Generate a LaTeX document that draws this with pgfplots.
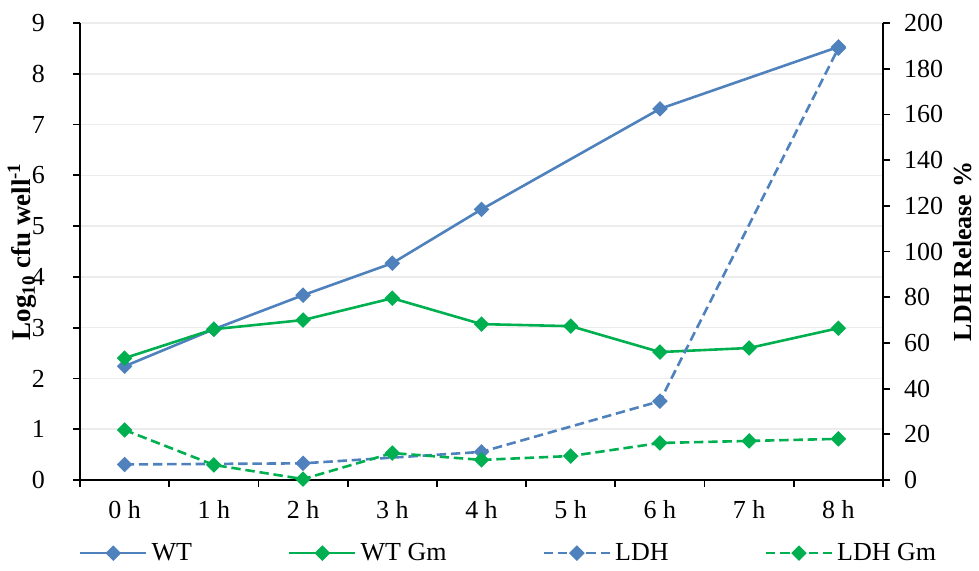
\documentclass[border=0pt]{standalone}
\usepackage{pgfplots}
\pgfplotsset{compat=1.18}
\usepackage{fontspec}
\setmainfont{Liberation Serif}

\definecolor{wtblue}{RGB}{79,129,189}
\definecolor{gmgreen}{RGB}{0,176,80}
\definecolor{gridgray}{RGB}{236,236,236}

\pgfplotsset{
  common/.style={
    width=401.5pt, height=228.5pt, scale only axis,
    xmin=-0.5, xmax=8.5,
    /pgf/number format/assume math mode=true,
    tick label style={font=\fontsize{13}{15}\selectfont},
    axis line style={-, line width=0.9pt, black},
    tick style={line width=0.9pt, black},
    tick align=outside,
    major tick length=3.5pt,
  },
  series/.style={line width=1.3pt, mark=square*, mark size=2.1pt,
    mark options={rotate=45, solid}},
  dashy/.style={dash pattern=on 4.7pt off 2.4pt},
}

\begin{document}
\begin{tikzpicture}
\useasboundingbox (-40pt,-45pt) rectangle (449.5pt,240pt);

% cfu counts on the left axis
\begin{axis}[common,
  axis x line*=bottom, axis y line*=left,
  ymin=0, ymax=9, ytick={0,...,9},
  ymajorgrids, major grid style={gridgray, line width=0.8pt},
  xtick={-0.5,0.5,...,8.5},
  xticklabels={0 h,1 h,2 h,3 h,4 h,5 h,6 h,7 h,8 h},
  x tick label as interval,
  xticklabel style={yshift=-3pt},
  yticklabel style={xshift=-10.5pt},
  ylabel={Log\textsubscript{10} cfu well\textsuperscript{-1}},
  every axis y label/.style={at={(axis description cs:0,0.5)},
    xshift=-29pt, rotate=90, anchor=center,
    font=\bfseries\fontsize{13.5}{16}\selectfont},
]
\addplot[series, wtblue] coordinates {
  (0,2.24) (1,2.97) (2,3.64) (3,4.27) (4,5.33) (6,7.31) (8,8.53)};
\addplot[series, gmgreen] coordinates {
  (0,2.40) (1,2.97) (2,3.15) (3,3.58) (4,3.07) (5,3.03) (6,2.52) (7,2.60) (8,2.99)};
\end{axis}

% LDH release on the right axis
\begin{axis}[common,
  axis x line=none, axis y line*=right,
  ymin=0, ymax=200, ytick={0,20,...,200},
  yticklabel style={xshift=3.5pt},
  ylabel={LDH Release \%},
  every axis y label/.style={at={(axis description cs:1,0.5)},
    xshift=40pt, rotate=90, anchor=center,
    font=\bfseries\fontsize{13}{16}\selectfont},
  legend columns=4,
  legend style={draw=none, fill=none, at={(axis description cs:0.535,-0.16)},
    anchor=center, font=\fontsize{13}{15}\selectfont,
    /tikz/every even column/.append style={column sep=46pt}},
  legend image code/.code={
    \draw[#1] (0pt,0pt) -- (33pt,0pt);
    \draw[#1, only marks] plot coordinates {(16.5pt,0pt)};},
]
\addlegendimage{series, wtblue}
\addlegendentry{WT}
\addlegendimage{series, gmgreen}
\addlegendentry{WT Gm}
\addplot[series, dashy, wtblue] coordinates {
  (0,6.8) (2,7.3) (4,12.3) (6,34.5) (8,189)};
\addlegendentry{LDH}
\addplot[series, dashy, gmgreen] coordinates {
  (0,21.9) (1,6.6) (2,0.4) (3,11.8) (4,8.8) (5,10.5) (6,16.2) (7,17.1) (8,18.0)};
\addlegendentry{LDH Gm}
\end{axis}
\end{tikzpicture}
\end{document}
